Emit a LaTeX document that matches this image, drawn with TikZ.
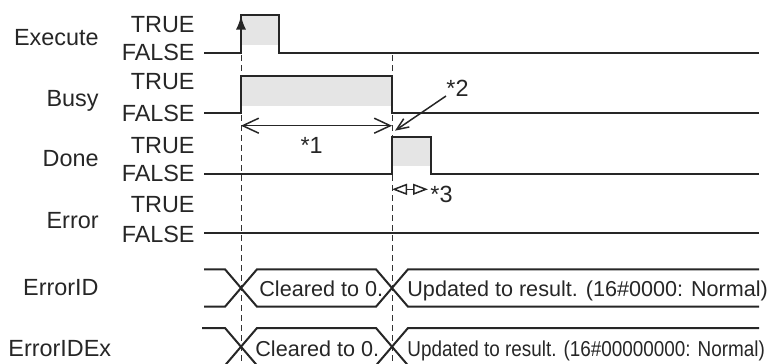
\documentclass[tikz,border=0pt]{standalone}
\usepackage{fontspec}
\setmainfont{Liberation Sans}
\usepackage{graphicx}
\usepackage{tikz}
\usetikzlibrary{arrows.meta, positioning, calc}
\definecolor{pulsegray}{gray}{0.9}
\newcommand{\labfont}{\fontsize{11.7}{14}\selectfont}
\newcommand{\busfont}{\fontsize{10.8}{12.9}\selectfont}
\tikzstyle{wave} = [line width=1pt, draw=black!85]
\tikzstyle{pulse} = [fill=pulsegray, draw=none]
\tikzstyle{guide} = [line width=0.45pt, dash pattern=on 3pt off 2pt, draw=black!80]
\tikzstyle{signame} = [anchor=base east, inner sep=0pt, font=\labfont, text=black!85]
\tikzstyle{level} = [anchor=base east, inner sep=0pt, font=\labfont, text=black!85]
\tikzstyle{bustext} = [anchor=base west, inner sep=0pt, font=\busfont, text=black!85]
\tikzstyle{note} = [inner sep=0pt, font=\labfont, text=black!85]
\tikzstyle{span} = [line width=0.75pt, draw=black!85, {Straight Barb[length=8pt,width=7.5pt]}-{Straight Barb[length=8pt,width=7.5pt]}]
\tikzstyle{pointer} = [line width=0.75pt, draw=black!85, -{Straight Barb[length=6pt,width=5pt]}]
\tikzstyle{gap} = [line width=0.75pt, draw=black!85, {Triangle[open,length=7.5pt,width=5.5pt]}-{Triangle[open,length=7.5pt,width=5.5pt]}]

\begin{document}
\begin{tikzpicture}[x=0.5pt, y=-0.5pt]
  \useasboundingbox (0,0) rectangle (772,364);
  \clip (0,0) rectangle (772,364);

  % Signal names
  \node[signame] (execute) at (99,45.7) {Execute};
  \node[signame] (busy) at (99,106.7) {Busy};
  \node[signame] (done) at (99,166.7) {Done};
  \node[signame] (error) at (99,228.3) {Error};
  \node[signame] (errorid) at (99,295) {ErrorID};
  \node[signame, anchor=base west] (erroridex) at (8,356) {ErrorIDEx};

  % TRUE / FALSE levels
  \node[level] (exec_t) at (195,32.3) {TRUE};
  \node[level] (exec_f) at (195,61) {FALSE};
  \node[level] (busy_t) at (195,90) {TRUE};
  \node[level] (busy_f) at (195,121.7) {FALSE};
  \node[level] (done_t) at (195,153.3) {TRUE};
  \node[level] (done_f) at (195,181.7) {FALSE};
  \node[level] (err_t) at (195,212.3) {TRUE};
  \node[level] (err_f) at (195,242.7) {FALSE};

  % Gray pulses
  \fill[pulse] (241,15) rectangle (279,45);
  \fill[pulse] (241,76) rectangle (392,106);
  \fill[pulse] (392,137) rectangle (431,166);

  % Dashed guides
  \draw[guide] (241,55) -- (241,364);
  \draw[guide] (392,55) -- (392,364);

  % Waveforms
  \draw[wave] (204,52.7) -- (241,52.7) -- (241,15) -- (279,15) -- (279,52.7) -- (759,52.7);
  \draw[wave] (204,113.3) -- (241,113.3) -- (241,76) -- (392,76) -- (392,113.3) -- (759,113.3);
  \draw[wave] (204,174.3) -- (392,174.3) -- (392,137) -- (431,137) -- (431,174.3) -- (759,174.3);
  \draw[wave] (204,233.3) -- (759,233.3);
  \draw[-{Latex[length=7pt,width=5pt]}, line width=1pt, black!85] (241,44) -- (241,15.5);

  % ErrorID / ErrorIDEx buses
  \draw[wave] (204,269.3) -- (225,269.3) -- (257,306.7) -- (376,306.7) -- (408,269.3) -- (759,269.3);
  \draw[wave] (204,306.7) -- (225,306.7) -- (257,269.3) -- (376,269.3) -- (408,306.7) -- (759,306.7);
  \draw[wave] (202,328) -- (225,328) -- (257,365.4) -- (376,365.4) -- (408,328) -- (759,328);
  \draw[wave] (202,365.4) -- (225,365.4) -- (257,328) -- (376,328) -- (408,365.4) -- (759,365.4);

  \node[bustext] (clr_id) at (259,296.5) {Cleared to 0.};
  \node[bustext] (upd_id) at (407,296.5) {Updated to result. (16\#0000: Normal)};
  \node[bustext] (clr_idex) at (255,356.5) {Cleared to 0.};
  \node[bustext] (upd_idex) at (407,356.5) {\scalebox{0.875}[1]{Updated to result. (16\#00000000: Normal)}};

  % Notes *1 *2 *3
  \node[note, anchor=base] (star1) at (311.7,153.3) {*1};
  \node[note, anchor=base west] (star2) at (446,96) {*2};
  \node[note, anchor=base west] (star3) at (430,202) {*3};
  \coordinate (s1a) at (241,125.7);
  \coordinate (s1b) at (392,125.7);
  \coordinate (p2) at (395,130.7);
  \coordinate (s3a) at (392,189.3);
  \coordinate (s3b) at (428,189.3);
  \draw[span] (s1a) -- (s1b);
  \draw[pointer] (star2.base west) -- (p2);
  \draw[gap] (s3a) -- (s3b);
\end{tikzpicture}
\end{document}
